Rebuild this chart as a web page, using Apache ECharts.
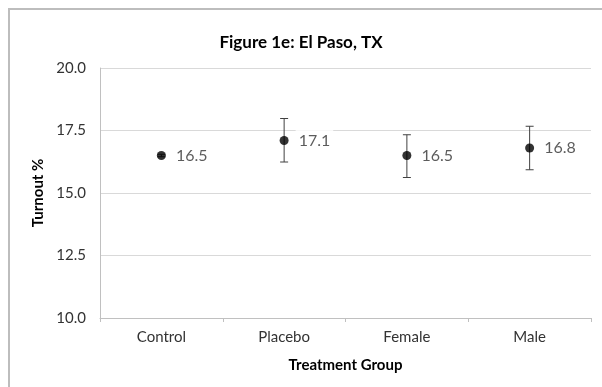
<!DOCTYPE html>
<html>
<head>
<meta charset="utf-8">
<script src="https://cdn.jsdelivr.net/npm/echarts@6/dist/echarts.min.js"></script>
<style>
html,body{margin:0;padding:0;background:#fff;}
#chart{width:602px;height:387px;}
</style>
</head>
<body>
<div id="chart"></div>
<script>
var categories = ['Control', 'Placebo', 'Female', 'Male'];
var turnout = [16.5, 17.1, 16.5, 16.8];
var errLow = [16.45, 16.24, 15.62, 15.93];
var errHigh = [16.55, 17.98, 17.33, 17.67];
var yTicks = [10, 12.5, 15, 17.5, 20];

var FONT = 'Lato, "Open Sans", sans-serif';
var chart = echarts.init(document.getElementById('chart'));

var errData = categories.map(function (c, i) { return [i, errLow[i], errHigh[i]]; });

chart.setOption({
  animation: false,
  backgroundColor: '#fff',
  graphic: [{
    type: 'rect',
    shape: { x: 9, y: 9, width: 700, height: 500 },
    style: { fill: 'none', stroke: '#bdbdbd', lineWidth: 2 },
    silent: true
  }],
  title: {
    text: 'Figure 1e: El Paso, TX',
    left: 'center',
    top: 29,
    textStyle: { fontFamily: FONT, fontSize: 17, fontWeight: 'bold', color: '#000' }
  },
  grid: { left: 100, right: 11, top: 68, bottom: 69 },
  xAxis: {
    type: 'category',
    data: categories,
    boundaryGap: true,
    name: 'Treatment Group',
    nameLocation: 'middle',
    nameGap: 40,
    nameTextStyle: { fontFamily: FONT, fontSize: 15, fontWeight: 'bold', color: '#000' },
    axisLine: { lineStyle: { color: '#c0c0c0', width: 1 } },
    axisTick: { show: true, length: 4, lineStyle: { color: '#c0c0c0' } },
    axisLabel: { fontFamily: FONT, fontSize: 15, color: '#333', margin: 12 }
  },
  yAxis: {
    type: 'value',
    min: 10,
    max: 20,
    interval: 2.5,
    name: 'Turnout %',
    nameLocation: 'middle',
    nameGap: 53,
    nameTextStyle: { fontFamily: FONT, fontSize: 15, fontWeight: 'bold', color: '#000' },
    axisLine: { show: true, lineStyle: { color: '#c0c0c0', width: 1 } },
    axisTick: { show: false },
    axisLabel: {
      fontFamily: FONT, fontSize: 15, color: '#333', margin: 14,
      formatter: function (v) { return v.toFixed(1); }
    },
    splitLine: { show: true, lineStyle: { color: '#d9d9d9', width: 1 } }
  },
  series: [
    {
      type: 'custom',
      data: errData,
      z: 2,
      renderItem: function (params, api) {
        var x = api.value(0);
        var lo = api.coord([x, api.value(1)]);
        var hi = api.coord([x, api.value(2)]);
        var w = 4;
        var st = { stroke: '#404040', lineWidth: 1 };
        return {
          type: 'group',
          children: [
            { type: 'line', shape: { x1: lo[0], y1: lo[1], x2: hi[0], y2: hi[1] }, style: st },
            { type: 'line', shape: { x1: lo[0] - w, y1: lo[1], x2: lo[0] + w, y2: lo[1] }, style: st },
            { type: 'line', shape: { x1: hi[0] - w, y1: hi[1], x2: hi[0] + w, y2: hi[1] }, style: st }
          ]
        };
      }
    },
    {
      type: 'scatter',
      data: turnout,
      symbol: 'circle',
      symbolSize: 9,
      z: 3,
      itemStyle: { color: '#000' },
      label: {
        show: true,
        position: 'right',
        distance: 7,
        fontFamily: FONT,
        fontSize: 16,
        color: '#333',
        backgroundColor: '#fff',
        padding: [4, 3, 2, 3],
        formatter: function (p) { return p.value.toFixed(1); }
      }
    }
  ]
});
</script>
</body>
</html>
